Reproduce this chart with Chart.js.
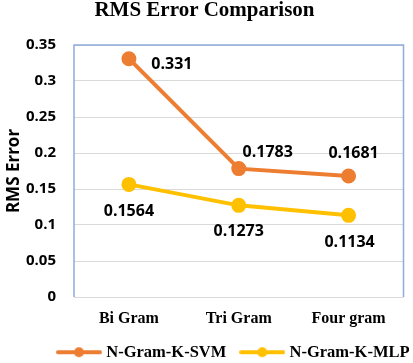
<!DOCTYPE html>
<html>
<head>
<meta charset="utf-8">
<script src="https://cdn.jsdelivr.net/npm/chart.js@4.4.1/dist/chart.umd.min.js"></script>
<style>
  html, body { margin: 0; padding: 0; background: #fff; }
  #wrap { width: 413px; height: 363px; }
</style>
</head>
<body>
<div id="wrap"><canvas id="rmsChart"></canvas></div>
<script>
var categorias = ["Bi Gram", "Tri Gram", "Four gram"];
var svmValores = [0.331, 0.1783, 0.1681];
var mlpValores = [0.1564, 0.1273, 0.1134];
var yTicks = [0, 0.05, 0.1, 0.15, 0.2, 0.25, 0.3, 0.35];

var corSvm = "#ED7D31";
var corMlp = "#FFC000";

// where each value label sits relative to its point
var deslocSvm = [[43, 6], [29, -16], [5, -23]];
var deslocMlp = [[0, 27], [0, 26], [1, 27]];

// little line+dot image used as legend marker
function marcador(cor) {
  var c = document.createElement("canvas");
  c.width = 46;
  c.height = 12;
  var ctx = c.getContext("2d");
  ctx.strokeStyle = cor;
  ctx.lineWidth = 4;
  ctx.lineCap = "round";
  ctx.beginPath();
  ctx.moveTo(2, 6);
  ctx.lineTo(44, 6);
  ctx.stroke();
  ctx.fillStyle = cor;
  ctx.beginPath();
  ctx.arc(23, 6, 5, 0, Math.PI * 2);
  ctx.fill();
  return c;
}

var rotulos = {
  id: "rotulos",
  afterDatasetsDraw: function (chart) {
    var ctx = chart.ctx;
    ctx.save();
    ctx.font = "bold 16px 'Open Sans', sans-serif";
    ctx.fillStyle = "#000";
    ctx.textBaseline = "middle";
    ctx.textAlign = "center";
    chart.data.datasets.forEach(function (ds, i) {
      var desloc = i === 0 ? deslocSvm : deslocMlp;
      chart.getDatasetMeta(i).data.forEach(function (pt, j) {
        ctx.fillText(String(ds.data[j]), pt.x + desloc[j][0], pt.y + desloc[j][1]);
      });
    });
    ctx.restore();
  }
};

// blue frame round the plot area
var moldura = {
  id: "moldura",
  beforeDatasetsDraw: function (chart) {
    var a = chart.chartArea;
    var ctx = chart.ctx;
    ctx.save();
    ctx.strokeStyle = "#8FAADC";
    ctx.lineWidth = 1.5;
    ctx.beginPath();
    ctx.moveTo(a.left, a.bottom);
    ctx.lineTo(a.left, a.top);
    ctx.lineTo(a.right, a.top);
    ctx.lineTo(a.right, a.bottom);
    ctx.stroke();
    ctx.restore();
  }
};

// fixed legend height, and legend placed a bit right of centre like the original
var ajustaLegenda = {
  id: "ajustaLegenda",
  beforeLayout: function (chart) {
    var leg = chart.legend;
    if (leg && !leg._fixo) {
      var fitOriginal = leg.fit;
      leg.fit = function () {
        fitOriginal.call(this);
        this.height = 32;
      };
      leg._fixo = true;
    }
  },
  afterLayout: function (chart) {
    var leg = chart.legend;
    var pad = leg.options.labels.padding;
    var xAtual = (leg.left + pad + leg.right - leg.lineWidths[0]) / 2;
    var dx = 60 - xAtual;
    leg.left += dx;
    leg.right += dx;
    leg.top -= 4;
    leg.bottom -= 4;
  }
};

var dados = {
  labels: categorias,
  datasets: [
    {
      label: "N-Gram-K-SVM",
      data: svmValores,
      borderColor: corSvm,
      backgroundColor: corSvm,
      borderWidth: 4,
      pointRadius: 5.5,
      pointHoverRadius: 5.5,
      tension: 0,
    },
    {
      label: "N-Gram-K-MLP",
      data: mlpValores,
      borderColor: corMlp,
      backgroundColor: corMlp,
      borderWidth: 4,
      pointRadius: 5.5,
      pointHoverRadius: 5.5,
      tension: 0,
    },
  ],
};

var marcadores = [marcador(corSvm), marcador(corMlp)];

var config = {
  type: "line",
  data: dados,
  plugins: [moldura, rotulos, ajustaLegenda],
  options: {
    responsive: true,
    maintainAspectRatio: false,
    animation: false,
    layout: { padding: { left: 0, right: 4, top: 0, bottom: 0 } },
    plugins: {
      title: {
        display: true,
        text: "RMS Error Comparison",
        color: "#000",
        font: { family: "'Liberation Serif', serif", size: 21, weight: "bold", lineHeight: 1 },
        padding: { top: 0, bottom: 24 },
      },
      legend: {
        position: "bottom",
        labels: {
          usePointStyle: true,
          pointStyleWidth: 38,
          color: "#000",
          font: { family: "'Liberation Serif', serif", size: 16.5, weight: "bold" },
          padding: 17,
          generateLabels: function (chart) {
            return chart.data.datasets.map(function (ds, i) {
              return {
                text: ds.label,
                pointStyle: marcadores[i],
                fillStyle: ds.borderColor,
                strokeStyle: ds.borderColor,
                lineWidth: 0,
                fontColor: "#000",
                datasetIndex: i,
                hidden: false,
              };
            });
          },
        },
      },
      tooltip: { enabled: false },
    },
    scales: {
      x: {
        offset: true,
        grid: { display: false },
        border: { display: false },
        afterFit: function (axis) { axis.height = 34; },
        ticks: {
          color: "#000",
          font: { family: "'Liberation Serif', serif", size: 16, weight: "bold" },
          padding: 4,
        },
      },
      y: {
        min: 0,
        max: 0.35,
        afterBuildTicks: function (axis) {
          axis.ticks = yTicks.map(function (v) { return { value: v }; });
        },
        afterFit: function (axis) { axis.width = 74; },
        grid: { color: "#D9D9D9", drawTicks: false },
        border: { display: false },
        title: {
          display: true,
          text: "RMS Error",
          color: "#000",
          font: { family: "'Open Sans', sans-serif", size: 17, weight: "bold" },
          padding: { top: 4, bottom: 2 },
        },
        ticks: {
          color: "#000",
          font: { family: "'Open Sans', sans-serif", size: 15, weight: "bold" },
          padding: 18,
          callback: function (v) { return String(v); },
        },
      },
    },
  },
};

var myChart = new Chart(document.getElementById("rmsChart"), config);
</script>
</body>
</html>
